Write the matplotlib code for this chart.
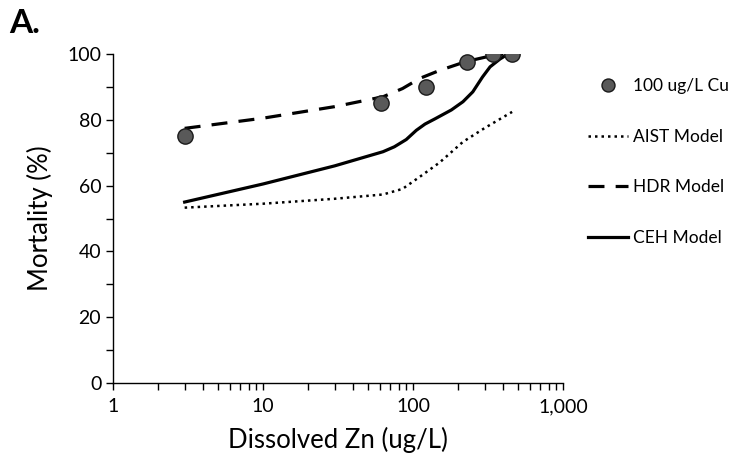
import numpy as np
import matplotlib
matplotlib.use("Agg")
import matplotlib.pyplot as plt
from matplotlib.ticker import FixedLocator, LogLocator, NullFormatter

plt.rcParams['font.family'] = ['Lato', 'DejaVu Sans']

# observed data, 100 ug/L Cu
obs_zn = [3, 61, 121, 228, 343, 459]
obs_mort = [75, 85, 90, 97.5, 100, 100]

# model curves
aist_zn = [3, 10, 30, 63, 85, 111, 150, 215, 300, 457]
aist_mort = [53.3, 54.5, 56, 57.3, 59, 62.7, 67, 73.3, 77.5, 82.4]

hdr_zn = [3, 10, 30, 63, 85, 111, 150, 225, 300, 400]
hdr_mort = [77.4, 80.5, 84, 87.0, 89.5, 92.6, 95, 97.7, 99, 100]

ceh_zn = [3, 10, 30, 63, 75, 90, 105, 120, 140, 180, 215, 250, 290, 326, 380, 430]
ceh_mort = [55, 60.5, 66, 70.3, 71.8, 74, 76.8, 78.7, 80.3, 83, 85.5, 88.5, 93, 96.1, 98.5, 100]

fig = plt.figure(figsize=(7.39, 4.68), dpi=100)
ax = fig.add_axes([0.153, 0.1816, 0.609, 0.703])

ax.plot(obs_zn, obs_mort, 'o', color='#595959', markeredgecolor='#1a1a1a',
        markeredgewidth=1.0, markersize=11, label='100 ug/L Cu', zorder=3)
ax.plot(aist_zn, aist_mort, color='black', lw=1.8, linestyle=(0, (1, 1.6)),
        label='AIST Model')
ax.plot(hdr_zn, hdr_mort, color='black', lw=2.3, linestyle=(0, (5, 3.5)),
        label='HDR Model')
ax.plot(ceh_zn, ceh_mort, color='black', lw=2.3, label='CEH Model')

ax.set_xscale('log')
ax.set_xlim(1, 1000)
ax.set_ylim(0, 100)
ax.xaxis.set_major_locator(FixedLocator([1, 10, 100, 1000]))
ax.set_xticklabels(['1', '10', '100', '1,000'])
ax.xaxis.set_minor_locator(LogLocator(base=10, subs=np.arange(2, 10)))
ax.xaxis.set_minor_formatter(NullFormatter())
ax.set_yticks([0, 20, 40, 60, 80, 100])
ax.yaxis.set_minor_locator(FixedLocator([10, 30, 50, 70, 90]))

for s in ['top', 'right']:
    ax.spines[s].set_visible(False)
for s in ['left', 'bottom']:
    ax.spines[s].set_linewidth(1.0)
ax.tick_params(axis='both', which='major', direction='out', length=5,
               width=1, labelsize=14, colors='black')
ax.tick_params(axis='both', which='minor', direction='out', length=5, width=1)
ax.tick_params(axis='x', pad=6)

ax.set_xlabel('Dissolved Zn (ug/L)', fontsize=18.5, labelpad=8)
ax.set_ylabel('Mortality (%)', fontsize=18.5, labelpad=10)

fig.text(0.012, 0.93, 'A.', fontsize=24, fontweight='bold')

ax.legend(loc='upper left', bbox_to_anchor=(1.02, 0.975), frameon=False,
          fontsize=12.5, labelspacing=2.0, handlelength=2.3, handletextpad=0.3,
          borderpad=0.4, markerscale=0.85)

fig.savefig('out.png', dpi=100)
